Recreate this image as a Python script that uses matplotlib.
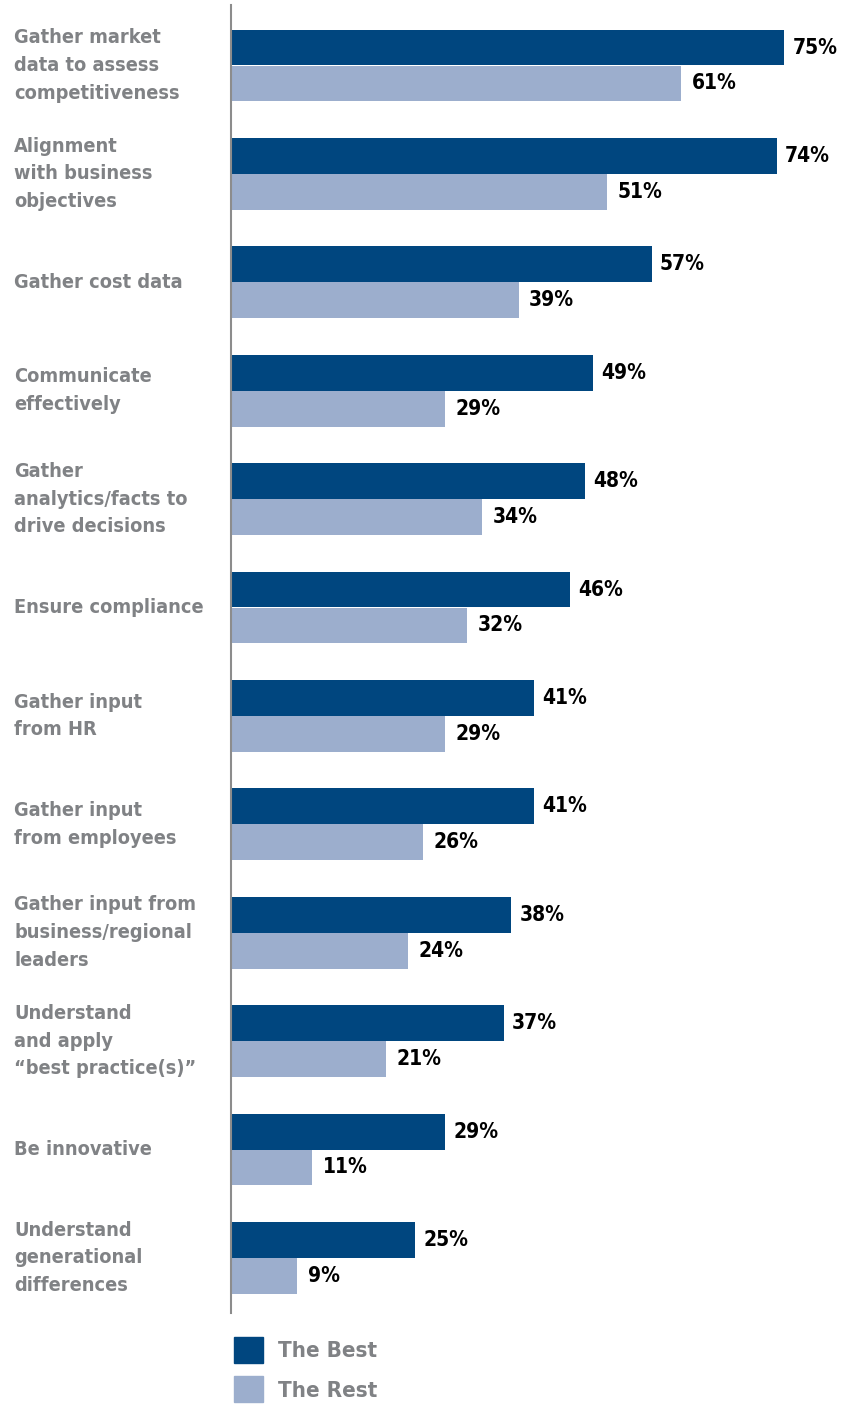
import matplotlib.pyplot as plt
import matplotlib.transforms as mtransforms
from matplotlib.patches import Patch

categories = [
    "Gather market\ndata to assess\ncompetitiveness",
    "Alignment\nwith business\nobjectives",
    "Gather cost data",
    "Communicate\neffectively",
    "Gather\nanalytics/facts to\ndrive decisions",
    "Ensure compliance",
    "Gather input\nfrom HR",
    "Gather input\nfrom employees",
    "Gather input from\nbusiness/regional\nleaders",
    "Understand\nand apply\n\u201cbest practice(s)\u201d",
    "Be innovative",
    "Understand\ngenerational\ndifferences",
]
best = [75, 74, 57, 49, 48, 46, 41, 41, 38, 37, 29, 25]
rest = [61, 51, 39, 29, 34, 32, 29, 26, 24, 21, 11, 9]
series_names = ["The Best", "The Rest"]

c_best = "#00467f"
c_rest = "#9caecd"
c_text = "#808285"

W, H = 853, 1406
fig = plt.figure(figsize=(W / 100, H / 100), dpi=100)
ax = fig.add_axes([231 / W, (H - 1313) / H, 1 - 231 / W, 1308 / H])

font = dict(family="DejaVu Sans", fontstretch="condensed", fontweight="bold")

y = list(range(len(categories)))
bh = 0.332
ax.barh([v - bh / 2 for v in y], best, height=bh, color=c_best)
ax.barh([v + bh / 2 for v in y], rest, height=bh, color=c_rest)

for i in y:
    ax.text(best[i] + 1.1, i - bh / 2, f"{best[i]}%", va="center", ha="left",
            fontsize=15, color="black", **font)
    ax.text(rest[i] + 1.4, i + bh / 2, f"{rest[i]}%", va="center", ha="left",
            fontsize=15, color="black", **font)

# category labels sit at a fixed figure x, aligned with each group
trans = mtransforms.blended_transform_factory(fig.transFigure, ax.transData)
for i, lab in enumerate(categories):
    ax.text(14 / W, i, lab, transform=trans, va="center", ha="left",
            fontsize=14.3, color=c_text, linespacing=1.58, **font)

ax.set_xlim(0, (W - 231) / 7.38)
ax.set_ylim((1313 - 65.5) / 108.4, (5 - 65.5) / 108.4)
for s in ["top", "right", "bottom"]:
    ax.spines[s].set_visible(False)
ax.spines["left"].set_color("#8c8c8c")
ax.spines["left"].set_linewidth(1.5)
ax.set_xticks([])
ax.set_yticks([])

handles = [Patch(color=c_best), Patch(color=c_rest)]
fig.legend(handles, series_names, loc="upper left",
           bbox_to_anchor=(234 / W, 1 - 1337 / H), frameon=False,
           borderpad=0, borderaxespad=0,
           handlelength=1.3, handleheight=1.4, handletextpad=0.68,
           labelspacing=0.62, labelcolor=c_text,
           prop=dict(family="DejaVu Sans", stretch="condensed",
                     weight="bold", size=16))

fig.savefig("out.png", dpi=100)
